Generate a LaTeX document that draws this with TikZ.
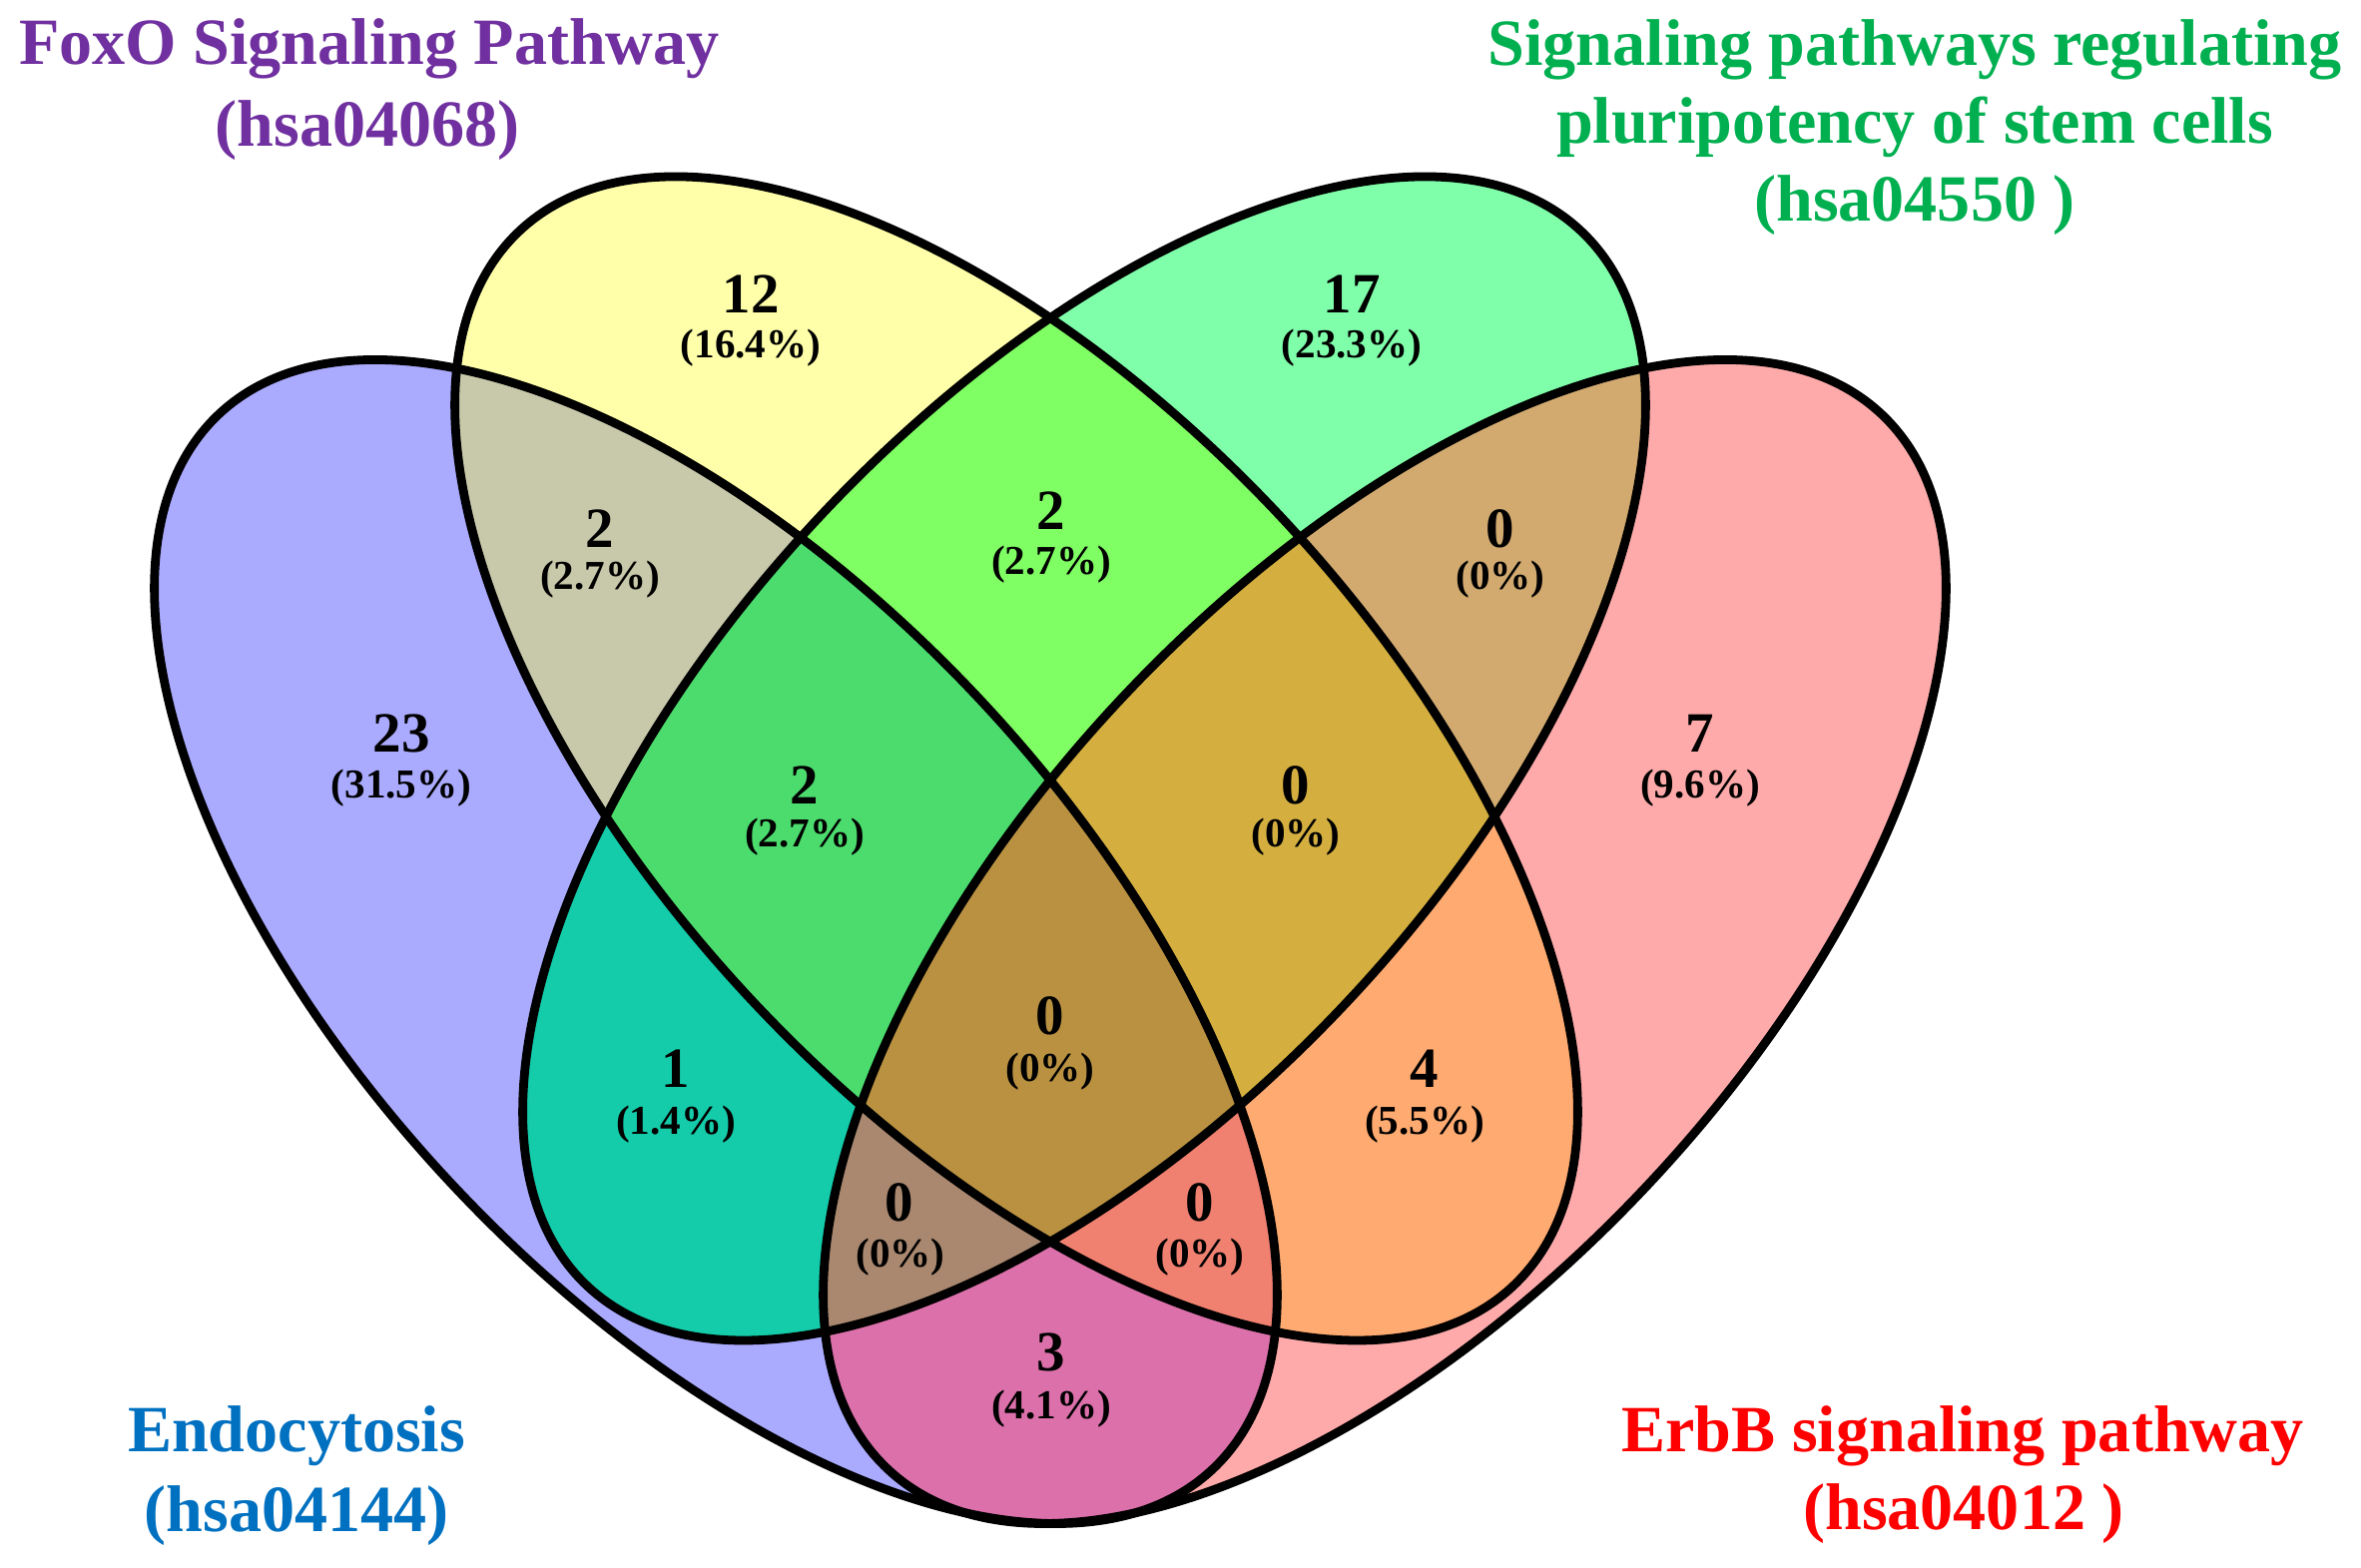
\documentclass[tikz,border=0pt]{standalone}
\usepackage{fontspec}
\setmainfont{Liberation Serif}
\definecolor{cA}{RGB}{170,170,255}
\definecolor{cB}{RGB}{255,255,170}
\definecolor{cC}{RGB}{128,255,170}
\definecolor{cD}{RGB}{255,170,170}
\definecolor{cAB}{RGB}{200,200,170}
\definecolor{cBC}{RGB}{128,255,100}
\definecolor{cCD}{RGB}{210,170,112}
\definecolor{cAC}{RGB}{20,204,170}
\definecolor{cBD}{RGB}{255,170,112}
\definecolor{cAD}{RGB}{220,112,170}
\definecolor{cABC}{RGB}{76,220,110}
\definecolor{cBCD}{RGB}{212,175,64}
\definecolor{cACD}{RGB}{170,136,112}
\definecolor{cABD}{RGB}{240,128,112}
\definecolor{cABCD}{RGB}{185,145,65}
\definecolor{labPurple}{RGB}{112,48,160}
\definecolor{labGreen}{RGB}{0,176,80}
\definecolor{labBlue}{RGB}{0,112,192}
\definecolor{labRed}{RGB}{255,0,0}
\newcommand\shA[1]{\path[#1,rotate around={-46.7:(717,627.5)}] (717,627.5) ellipse [x radius=726,y radius=359];}
\newcommand\shB[1]{\path[#1,rotate around={-46.7:(1018,811)}] (1018,811) ellipse [x radius=726,y radius=359];}
\newcommand\shC[1]{\path[#1,rotate around={46.7:(1086,811)}] (1086,811) ellipse [x radius=726,y radius=359];}
\newcommand\shD[1]{\path[#1,rotate around={46.7:(1387,627.5)}] (1387,627.5) ellipse [x radius=726,y radius=359];}
\begin{document}
\begin{tikzpicture}[x=0.01cm,y=0.01cm,
  ring/.style={draw=black,line width=2.5pt},
  num/.style={font=\fontsize{16.2}{18}\selectfont\bfseries,anchor=base,inner sep=0pt},
  pct/.style={font=\fontsize{11.7}{14}\selectfont\bfseries,anchor=base,inner sep=0pt},
  cat/.style={font=\fontsize{18.8}{22}\selectfont\bfseries,anchor=base,inner sep=0pt}]
\useasboundingbox (0,0) rectangle (2365,1571);
% single sets
\shA{fill=cA}
\shB{fill=cB}
\shC{fill=cC}
\shD{fill=cD}
% pairs
\begin{scope}\shA{clip}\shB{fill=cAB}\end{scope}
\begin{scope}\shA{clip}\shC{fill=cAC}\end{scope}
\begin{scope}\shA{clip}\shD{fill=cAD}\end{scope}
\begin{scope}\shB{clip}\shC{fill=cBC}\end{scope}
\begin{scope}\shB{clip}\shD{fill=cBD}\end{scope}
\begin{scope}\shC{clip}\shD{fill=cCD}\end{scope}
% triples
\begin{scope}\shA{clip}\shB{clip}\shC{fill=cABC}\end{scope}
\begin{scope}\shA{clip}\shB{clip}\shD{fill=cABD}\end{scope}
\begin{scope}\shA{clip}\shC{clip}\shD{fill=cACD}\end{scope}
\begin{scope}\shB{clip}\shC{clip}\shD{fill=cBCD}\end{scope}
% all four
\begin{scope}\shA{clip}\shB{clip}\shC{clip}\shD{fill=cABCD}\end{scope}
% outlines
\shA{ring}
\shB{ring}
\shC{ring}
\shD{ring}
% region counts
\node[num] (n1)  at (752,1257) {12};   \node[pct] (p1)  at (752,1212) {(16.4\%)};
\node[num] (n2)  at (1354,1257) {17};  \node[pct] (p2)  at (1354,1212) {(23.3\%)};
\node[num] (n3)  at (601,1022) {2};    \node[pct] (p3)  at (601,980) {(2.7\%)};
\node[num] (n4)  at (1053,1040) {2};   \node[pct] (p4)  at (1053,995) {(2.7\%)};
\node[num] (n5)  at (1503,1022) {0};   \node[pct] (p5)  at (1503,980) {(0\%)};
\node[num] (n6)  at (806,765) {2};     \node[pct] (p6)  at (806,722) {(2.7\%)};
\node[num] (n7)  at (1298,765) {0};    \node[pct] (p7)  at (1298,722) {(0\%)};
\node[num] (n8)  at (402,817) {23};    \node[pct] (p8)  at (402,771) {(31.5\%)};
\node[num] (n9)  at (1703,817) {7};    \node[pct] (p9)  at (1703,771) {(9.6\%)};
\node[num] (n10) at (677,481) {1};     \node[pct] (p10) at (677,434) {(1.4\%)};
\node[num] (n11) at (1427,481) {4};    \node[pct] (p11) at (1427,434) {(5.5\%)};
\node[num] (n12) at (1052,534) {0};    \node[pct] (p12) at (1052,487) {(0\%)};
\node[num] (n13) at (901,347) {0};     \node[pct] (p13) at (902,301) {(0\%)};
\node[num] (n14) at (1202,347) {0};    \node[pct] (p14) at (1202,301) {(0\%)};
\node[num] (n15) at (1053,197) {3};    \node[pct] (p15) at (1053,149) {(4.1\%)};
% category labels
\node[cat,text=labPurple] (fa) at (370,1506) {FoxO Signaling Pathway};
\node[cat,text=labPurple] (fb) at (368,1424) {(hsa04068)};
\node[cat,text=labGreen] (sa) at (1918,1505) {Signaling pathways regulating};
\node[cat,text=labGreen] (sb) at (1918,1427) {pluripotency of stem cells};
\node[cat,text=labGreen] (sc) at (1918,1349) {(hsa04550 )};
\node[cat,text=labBlue] (ea) at (297,116) {Endocytosis};
\node[cat,text=labBlue] (eb) at (297,36) {(hsa04144)};
\node[cat,text=labRed] (ra) at (1966,116) {ErbB signaling pathway};
\node[cat,text=labRed] (rb) at (1967,38) {(hsa04012 )};
\end{tikzpicture}
\end{document}
